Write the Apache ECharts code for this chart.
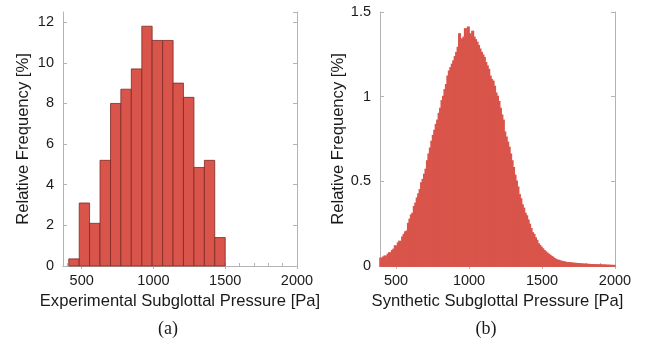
<!DOCTYPE html>
<html>
<head>
<meta charset="utf-8">
<script src="https://cdn.jsdelivr.net/npm/echarts@6/dist/echarts.min.js"></script>
<style>
  html, body { margin: 0; padding: 0; background: #fff; }
  #chart { width: 647px; height: 338px; }
</style>
</head>
<body>
<div id="chart"></div>
<script>
// (a) experimental histogram: bin edges [Pa] and relative frequency [%]
const expEdges = [410, 483, 555, 628, 701, 773, 846, 919, 991, 1064, 1137, 1209, 1282, 1355, 1427, 1500];
const expFreq = [0.35, 3.1, 2.1, 5.2, 8.0, 8.7, 9.7, 11.8, 11.1, 11.1, 9.0, 8.3, 4.85, 5.2, 1.4];

// (b) synthetic histogram: first bin start, bin width and relative frequency [%]
const synStart = 390;
const synWidth = 10;
const synFreq = [
  0.045, 0.044, 0.052, 0.058, 0.050, 0.068, 0.077, 0.072, 0.090, 0.098,
  0.118, 0.110, 0.135, 0.145, 0.140, 0.170, 0.185, 0.200, 0.205, 0.250,
  0.275, 0.300, 0.310, 0.350, 0.370, 0.400, 0.425, 0.450, 0.490, 0.510,
  0.540, 0.570, 0.620, 0.660, 0.695, 0.735, 0.770, 0.800, 0.835, 0.860,
  0.900, 0.930, 0.975, 1.000, 1.040, 1.070, 1.120, 1.150, 1.170, 1.190,
  1.210, 1.235, 1.260, 1.290, 1.370, 1.330, 1.340, 1.350, 1.400, 1.360,
  1.410, 1.370, 1.360, 1.385, 1.350, 1.335, 1.320, 1.300, 1.280, 1.260,
  1.245, 1.230, 1.200, 1.180, 1.160, 1.120, 1.100, 1.090, 1.060, 1.020,
  1.000, 0.970, 0.930, 0.890, 0.860, 0.790, 0.760, 0.730, 0.700, 0.660,
  0.620, 0.580, 0.535, 0.500, 0.465, 0.420, 0.395, 0.360, 0.340, 0.310,
  0.295, 0.270, 0.245, 0.220, 0.195, 0.185, 0.165, 0.150, 0.130, 0.120,
  0.110, 0.100, 0.090, 0.082, 0.075, 0.068, 0.062, 0.055, 0.050, 0.042,
  0.038, 0.033, 0.032, 0.028, 0.026, 0.024, 0.022, 0.020, 0.019, 0.018,
  0.017, 0.016, 0.015, 0.014, 0.014, 0.013, 0.012, 0.011, 0.010, 0.010,
  0.009, 0.009, 0.008, 0.008, 0.007, 0.007, 0.006, 0.006, 0.006, 0.005,
  0.005, 0.005, 0.004, 0.004, 0.004, 0.003, 0.003, 0.003, 0.002, 0.002,
  0.002
];

const xLabelValues = [500, 1000, 1500, 2000];
const xMinorValues = [400, 500, 600, 700, 800, 900, 1000, 1100, 1200, 1300, 1400, 1500, 1600, 1700, 1800, 1900, 2000];

const axisGray = '#b4b4b4';
const barRed = '#d9544a';
const textColor = '#1a1a1a';
const sansFont = '"Liberation Sans", Arial, Helvetica, sans-serif';
const serifFont = '"Liberation Serif", "Times New Roman", serif';

const expData = expFreq.map((v, i) => [expEdges[i], expEdges[i + 1], v]);
const synData = synFreq.map((v, i) => [synStart + i * synWidth, synStart + (i + 1) * synWidth, v]);

function barRenderer(fill, stroke, lineWidth) {
  return function (params, api) {
    const p0 = api.coord([api.value(0), api.value(2)]);
    const p1 = api.coord([api.value(1), 0]);
    return {
      type: 'rect',
      shape: { x: p0[0], y: p0[1], width: p1[0] - p0[0], height: p1[1] - p0[1] },
      style: { fill: fill, stroke: stroke, lineWidth: lineWidth }
    };
  };
}

function bottomAxis(gridIndex, min, name) {
  return {
    type: 'value', gridIndex: gridIndex, position: 'bottom', min: min, max: 2000,
    name: name, nameLocation: 'middle', nameGap: 27,
    nameTextStyle: { fontFamily: sansFont, fontSize: 16.6, color: textColor },
    axisLine: { show: true, lineStyle: { color: axisGray, width: 1 } },
    axisTick: { show: true, inside: true, length: 3, customValues: xMinorValues, lineStyle: { color: axisGray } },
    axisLabel: { customValues: xLabelValues, margin: 7, fontFamily: sansFont, fontSize: 14.5, color: textColor,
      formatter: (v) => String(v) },
    splitLine: { show: false }
  };
}

function topAxis(gridIndex, min) {
  return {
    type: 'value', gridIndex: gridIndex, position: 'top', min: min, max: 2000,
    axisLine: { show: true, lineStyle: { color: axisGray, width: 1 } },
    axisTick: { show: true, inside: true, length: 3, customValues: xLabelValues, lineStyle: { color: axisGray } },
    axisLabel: { show: false },
    splitLine: { show: false }
  };
}

function leftAxis(gridIndex, max, interval) {
  return {
    type: 'value', gridIndex: gridIndex, position: 'left', min: 0, max: max, interval: interval,
    name: 'Relative Frequency [%]', nameLocation: 'middle', nameGap: 31,
    nameTextStyle: { fontFamily: sansFont, fontSize: 16.6, color: textColor },
    axisLine: { show: true, lineStyle: { color: axisGray, width: 1 } },
    axisTick: { show: true, inside: true, length: 4, lineStyle: { color: axisGray } },
    axisLabel: { margin: 9, fontFamily: sansFont, fontSize: 14.5, color: textColor, showMaxLabel: max % interval === 0,
      formatter: (v) => String(v) },
    splitLine: { show: false }
  };
}

function rightAxis(gridIndex, max, interval) {
  return {
    type: 'value', gridIndex: gridIndex, position: 'right', min: 0, max: max, interval: interval,
    axisLine: { show: true, lineStyle: { color: axisGray, width: 1 } },
    axisTick: { show: true, inside: true, length: 4, lineStyle: { color: axisGray } },
    axisLabel: { show: false },
    splitLine: { show: false }
  };
}

const chart = echarts.init(document.getElementById('chart'), null, { renderer: 'canvas' });
chart.setOption({
  animation: false,
  backgroundColor: '#fff',
  grid: [
    { left: 63, top: 12, width: 234, height: 254 },
    { left: 380, top: 12, width: 235, height: 254 }
  ],
  title: [
    { text: '(a)', left: 163, top: 315, textAlign: 'center',
      textStyle: { fontFamily: serifFont, fontSize: 18, fontWeight: 'normal', color: textColor } },
    { text: '(b)', left: 481, top: 315, textAlign: 'center',
      textStyle: { fontFamily: serifFont, fontSize: 18, fontWeight: 'normal', color: textColor } }
  ],
  xAxis: [
    bottomAxis(0, 370, 'Experimental Subglottal Pressure [Pa]'),
    topAxis(0, 370),
    bottomAxis(1, 390, 'Synthetic Subglottal Pressure [Pa]'),
    topAxis(1, 390)
  ],
  yAxis: [
    leftAxis(0, 12.5, 2),
    rightAxis(0, 12.5, 2),
    leftAxis(1, 1.5, 0.5),
    rightAxis(1, 1.5, 0.5)
  ],
  series: [
    {
      type: 'custom', xAxisIndex: 0, yAxisIndex: 0,
      renderItem: barRenderer(barRed, '#7d2a25', 0.8),
      encode: { x: [0, 1], y: 2 },
      data: expData
    },
    {
      type: 'custom', xAxisIndex: 2, yAxisIndex: 2,
      renderItem: barRenderer(barRed, barRed, 1.6),
      encode: { x: [0, 1], y: 2 },
      data: synData
    }
  ]
});
</script>
</body>
</html>
